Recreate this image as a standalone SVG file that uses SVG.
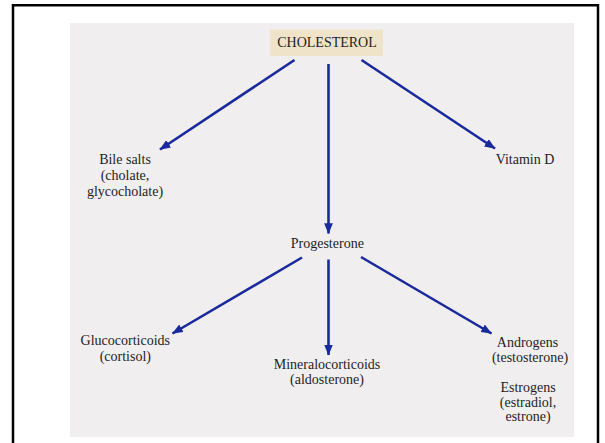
<svg xmlns="http://www.w3.org/2000/svg" width="605" height="443" viewBox="0 0 605 443">
  <style>
    .lbl { font-family: "Liberation Serif", "Times New Roman", serif; font-size: 14px; fill: #1e1e1e; text-anchor: middle; }
    .arr { stroke: #1a2a9c; stroke-width: 2.6; fill: none; marker-end: url(#ah); }
  </style>
  <defs>
    <marker id="ah" viewBox="0 0 10 8" refX="9.5" refY="4" markerWidth="4.2" markerHeight="3.4" orient="auto" markerUnits="strokeWidth">
      <path d="M0,0 L10,4 L0,8 Z" fill="#1a2a9c"/>
    </marker>
  </defs>
  <rect x="0" y="0" width="605" height="443" fill="#ffffff"/>
  <path d="M13,443 V5.2 H598 V443" fill="none" stroke="#000000" stroke-width="2.5"/>
  <rect x="70" y="23" width="504" height="414" fill="#f0eeef"/>

  <g id="connectors">
    <line class="arr" x1="294.5" y1="60" x2="160" y2="149.5"/>
    <line class="arr" x1="328.5" y1="64" x2="328.5" y2="233.5"/>
    <line class="arr" x1="361.5" y1="60" x2="495" y2="148.5"/>
    <line class="arr" x1="302" y1="257.5" x2="172.5" y2="333.5"/>
    <line class="arr" x1="328.5" y1="259.5" x2="328.5" y2="355"/>
    <line class="arr" x1="361" y1="257" x2="491.5" y2="333.5"/>
  </g>

  <g id="cholesterol">
    <rect x="270" y="29.5" width="113" height="26.5" fill="#efe3ca"/>
    <text class="lbl" x="327" y="46.7">CHOLESTEROL</text>
  </g>
  <g id="bile-salts">
    <text class="lbl" x="125" y="164">Bile salts</text>
    <text class="lbl" x="125" y="180">(cholate,</text>
    <text class="lbl" x="125" y="195.5">glycocholate)</text>
  </g>
  <g id="vitamin-d">
    <text class="lbl" x="525" y="164.3">Vitamin D</text>
  </g>
  <g id="progesterone">
    <text class="lbl" x="327.3" y="248.3">Progesterone</text>
  </g>
  <g id="glucocorticoids">
    <text class="lbl" x="125.3" y="345">Glucocorticoids</text>
    <text class="lbl" x="125.3" y="360.5">(cortisol)</text>
  </g>
  <g id="mineralocorticoids">
    <text class="lbl" x="327" y="368.5">Mineralocorticoids</text>
    <text class="lbl" x="327" y="384">(aldosterone)</text>
  </g>
  <g id="androgens">
    <text class="lbl" x="527.5" y="346.7">Androgens</text>
    <text class="lbl" x="530" y="362">(testosterone)</text>
  </g>
  <g id="estrogens">
    <text class="lbl" x="528" y="391.7">Estrogens</text>
    <text class="lbl" x="528" y="406.5">(estradiol,</text>
    <text class="lbl" x="528" y="421">estrone)</text>
  </g>
</svg>
